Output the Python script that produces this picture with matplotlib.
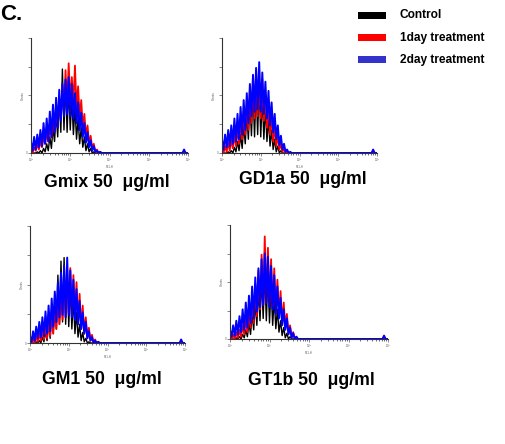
import numpy as np
import matplotlib.pyplot as plt
from matplotlib.patches import Rectangle

plt.rcParams['font.family'] = ['Liberation Sans', 'DejaVu Sans']

# log10 channel position of each histogram bin (0 .. 1.88 decades)
bin_decades = np.arange(48) * 0.04
# small far-right tail (events near the top of the scale)
tail_decades = [1.92, 3.86, 3.90, 3.94, 4.0]

series_names = ["Control", "1day treatment", "2day treatment"]
line_colors = ["#000000", "#ff0000", "#0000ff"]
line_widths = [1.0, 1.3, 1.4]
legend_colors = ["#000000", "#ff0000", "#3333cc"]

titles = ["Gmix 50  \u03bcg/ml", "GD1a 50  \u03bcg/ml",
          "GM1 50  \u03bcg/ml", "GT1b 50  \u03bcg/ml"]

# counts (% of the y range)
gmix_control = [0, 0, 0, 0, 1, 0, 2, 0, 4, 1, 8, 2, 14, 4, 22, 10, 34, 14, 48, 18,
                73, 20, 62, 18, 58, 20, 48, 16, 40, 12, 30, 8, 22, 5, 14, 2, 8, 1, 4, 0,
                1, 0, 0, 0, 0, 0, 0, 0]
gmix_1day = [2, 0, 5, 2, 8, 3, 10, 5, 14, 8, 18, 10, 24, 14, 30, 18, 38, 24, 46, 30,
             58, 36, 72, 40, 78, 44, 66, 42, 76, 38, 58, 30, 46, 22, 34, 14, 24, 8, 15, 4,
             8, 1, 3, 0, 1, 0, 0, 0]
gmix_2day = [10, 2, 14, 3, 16, 5, 20, 6, 26, 8, 30, 10, 36, 14, 42, 18, 48, 22, 55, 28,
             60, 32, 64, 34, 66, 32, 60, 30, 52, 26, 44, 20, 35, 14, 26, 9, 18, 5, 11, 2,
             6, 1, 2, 0, 1, 0, 0, 0]

gd1a_control = [0, 0, 0, 0, 1, 0, 2, 0, 5, 1, 10, 2, 16, 4, 24, 8, 34, 12, 44, 15,
                54, 14, 58, 16, 60, 14, 50, 12, 40, 10, 30, 6, 20, 3, 12, 1, 6, 0, 2, 0,
                0, 0, 0, 0, 0, 0, 0, 0]
gd1a_1day = [3, 0, 6, 1, 9, 2, 12, 4, 16, 6, 22, 8, 28, 12, 36, 16, 46, 20, 56, 26,
             66, 30, 70, 32, 62, 30, 64, 28, 50, 22, 44, 16, 34, 10, 24, 6, 16, 3, 8, 1,
             4, 0, 1, 0, 0, 0, 0, 0]
gd1a_2day = [12, 3, 16, 5, 20, 6, 24, 8, 30, 10, 34, 12, 40, 16, 46, 20, 52, 26, 60, 32,
             68, 36, 74, 38, 79, 36, 70, 34, 62, 30, 54, 24, 44, 18, 34, 12, 24, 7, 15, 3,
             8, 1, 3, 0, 1, 0, 0, 0]

gm1_control = [0, 0, 0, 0, 1, 0, 2, 0, 5, 1, 10, 2, 18, 4, 28, 8, 42, 12, 58, 16,
               70, 18, 73, 16, 62, 14, 50, 12, 38, 8, 26, 5, 16, 2, 9, 1, 4, 0, 1, 0,
               0, 0, 0, 0, 0, 0, 0, 0]
gm1_1day = [2, 0, 4, 0, 6, 1, 8, 2, 11, 3, 14, 4, 18, 6, 24, 8, 30, 12, 38, 16,
            46, 20, 54, 22, 60, 26, 64, 24, 58, 22, 52, 18, 42, 12, 32, 8, 22, 4, 13, 2,
            7, 0, 3, 0, 1, 0, 0, 0]
gm1_2day = [6, 1, 10, 2, 14, 4, 18, 5, 22, 6, 27, 8, 32, 10, 38, 14, 44, 18, 52, 22,
            60, 24, 66, 22, 73, 24, 62, 22, 54, 20, 46, 16, 36, 12, 26, 8, 18, 4, 10, 2,
            5, 0, 2, 0, 1, 0, 0, 0]

gt1b_control = [0, 0, 0, 0, 1, 0, 2, 0, 4, 1, 8, 2, 14, 4, 22, 8, 32, 12, 44, 16,
                54, 18, 60, 16, 56, 14, 46, 12, 36, 9, 26, 6, 16, 3, 10, 1, 5, 0, 2, 0,
                0, 0, 0, 0, 0, 0, 0, 0]
gt1b_1day = [2, 0, 4, 0, 6, 1, 8, 2, 12, 4, 18, 6, 26, 10, 36, 14, 48, 20, 60, 26,
             74, 30, 90, 32, 80, 30, 70, 28, 62, 24, 52, 20, 42, 14, 32, 10, 22, 5, 12, 2,
             6, 0, 2, 0, 0, 0, 0, 0]
gt1b_2day = [8, 2, 12, 3, 16, 4, 20, 6, 26, 8, 32, 10, 38, 14, 46, 18, 54, 24, 62, 28,
             70, 30, 75, 32, 72, 28, 64, 26, 56, 22, 46, 18, 36, 12, 26, 8, 18, 4, 10, 1,
             5, 0, 2, 0, 0, 0, 0, 0]

# tail counts for control, 1day, 2day
tail_control = [0, 0, 1, 0, 0]
tail_1day = [0, 0, 1, 0, 0]
tail_2day = [0, 0, 3, 0, 0]

panels = [
    [gmix_control, gmix_1day, gmix_2day],
    [gd1a_control, gd1a_1day, gd1a_2day],
    [gm1_control, gm1_1day, gm1_2day],
    [gt1b_control, gt1b_1day, gt1b_2day],
]
tails = [tail_control, tail_1day, tail_2day]

W, H = 505, 444
fig = plt.figure(figsize=(W / 100, H / 100), dpi=100)

# axes boxes in pixels: left, top, right, bottom
boxes = [(31, 38, 188, 153), (222, 38, 377, 153),
         (30, 226, 185, 343), (230, 225, 388, 339)]
title_pos = [(107, 182), (303, 179), (102, 379), (311, 380)]

for k, (l, t, r, b) in enumerate(boxes):
    ax = fig.add_axes([l / W, 1 - b / H, (r - l) / W, (b - t) / H])
    for name, col, lw, vals, tail in zip(series_names, line_colors, line_widths,
                                         panels[k], tails):
        x = 10 ** np.concatenate([bin_decades, tail_decades])
        y = np.concatenate([vals, tail])
        ax.plot(x, y, color=col, lw=lw, label=name)
    ax.set_xscale('log')
    ax.set_xlim(1, 10000)
    ax.set_ylim(0, 100)
    ax.set_yticks([0, 25, 50, 75, 100])
    ax.set_yticklabels(["0", "", "", "", ""])
    for s in ['top', 'right']:
        ax.spines[s].set_visible(False)
    for s in ['left', 'bottom']:
        ax.spines[s].set_linewidth(0.8)
        ax.spines[s].set_color('#333333')
    ax.tick_params(axis='both', which='major', length=2, width=0.5,
                   labelsize=2, pad=0.5, colors='#555555')
    ax.tick_params(axis='x', which='minor', length=1.2, width=0.4)
    ax.set_xlabel("FL1-H", fontsize=2, labelpad=0.5, color='#555555')
    ax.set_ylabel("Counts", fontsize=2, labelpad=0.5, color='#555555')
    tx, ty = title_pos[k]
    fig.text(tx / W, 1 - ty / H, titles[k], ha='center', va='center',
             fontsize=12.7, fontweight='bold')

# panel letter
fig.text(0, 1 - 14 / H, "C.", ha='left', va='center', fontsize=16,
         fontweight='bold')

# legend
for i, (name, col) in enumerate(zip(series_names, legend_colors)):
    yc = 15.5 + 22 * i
    fig.add_artist(Rectangle((358 / W, 1 - (yc + 3.5) / H), 28 / W, 7 / H,
                             transform=fig.transFigure, color=col, lw=0))
    fig.text(400 / W, 1 - yc / H, name, ha='left', va='center', fontsize=8.6,
             fontweight='bold')

fig.savefig("out.png", dpi=100)
